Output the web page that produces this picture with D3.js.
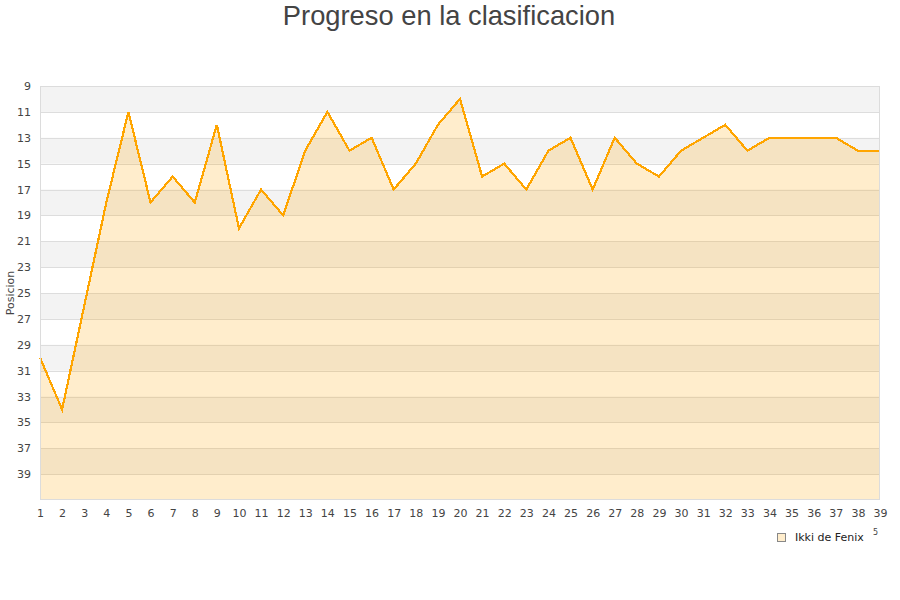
<!DOCTYPE html>
<html><head><meta charset="utf-8">
<script src="https://cdn.jsdelivr.net/npm/d3@7"></script>
<style>body{margin:0;background:#fff;}svg{display:block;}</style>
</head><body>
<svg id="c" width="900" height="600"></svg>
<script>
const jornadas = d3.range(1, 40);
const posiciones = [30,34,26,18,11,18,16,18,12,20,17,19,14,11,14,13,17,15,12,10,16,15,17,14,13,17,13,15,16,14,13,12,14,13,13,13,13,14,14];
const yTicks = [9,11,13,15,17,19,21,23,25,27,29,31,33,35,37,39];
const seriesName = "Ikki de Fenix";
const title = "Progreso en la clasificacion";
const yLabel = "Posicion";

const svg = d3.select("#c");
const L = 40, R = 880, T = 86, B = 500;
const x = d3.scaleLinear().domain([1, 39]).range([L, R]);
const y = d3.scaleLinear().domain([9, 41]).range([T, B]);

// bands
const bandStarts = d3.range(9, 41, 4);
svg.append("g").selectAll("rect").data(bandStarts).join("rect")
  .attr("x", L).attr("width", R - L)
  .attr("y", d => y(d)).attr("height", d => y(d + 2) - y(d))
  .attr("fill", "#f3f3f3");
// grid
svg.append("g").selectAll("line").data(yTicks.slice(1)).join("line")
  .attr("x1", L).attr("x2", R).attr("y1", d => Math.round(y(d)) + 0.5).attr("y2", d => Math.round(y(d)) + 0.5)
  .attr("stroke", "#dddddd").attr("stroke-width", 1);

const data = jornadas.map((j, i) => ({j, p: posiciones[i]}));
svg.append("path").datum(data)
  .attr("d", d3.area().x(d => x(d.j)).y0(B).y1(d => y(d.p)))
  .attr("fill", "orange").attr("fill-opacity", 0.2);
svg.append("path").datum(data)
  .attr("d", d3.line().x(d => x(d.j)).y(d => y(d.p)))
  .attr("fill", "none").attr("stroke", "#ffa500").attr("stroke-width", 2.2)
  .attr("stroke-linejoin", "miter").attr("shape-rendering", "crispEdges");

// border
svg.append("rect").attr("x", L + 0.5).attr("y", T + 0.5).attr("width", R - L - 1).attr("height", B - T - 1)
  .attr("fill", "none").attr("stroke", "#dcdcdc");

// axes
const yAxis = svg.append("g").attr("transform", `translate(${L},0)`)
  .call(d3.axisLeft(y).tickValues(yTicks).tickSize(0).tickPadding(9));
yAxis.select(".domain").remove();
yAxis.selectAll("text").attr("font-family", "DejaVu Sans").attr("font-size", 11).attr("fill", "#444");

const xAxis = svg.append("g").attr("transform", `translate(0,${B})`)
  .call(d3.axisBottom(x).tickValues(jornadas).tickFormat(d3.format("d")).tickSize(0).tickPadding(9));
xAxis.select(".domain").remove();
xAxis.selectAll("text").attr("font-family", "DejaVu Sans").attr("font-size", 11).attr("fill", "#444");

svg.append("text").attr("x", 449).attr("y", 25).attr("text-anchor", "middle")
  .attr("font-family", "Liberation Sans, Arial, sans-serif").attr("font-size", 27.3).attr("fill", "#444").text(title);

svg.append("text").attr("transform", "translate(14,293) rotate(-90)").attr("text-anchor", "middle")
  .attr("font-family", "DejaVu Sans").attr("font-size", 11).attr("fill", "#444").text(yLabel);

// legend
svg.append("rect").attr("x", 777.5).attr("y", 533.5).attr("width", 8).attr("height", 8)
  .attr("fill", "#ffedcc").attr("stroke", "#888");
svg.append("text").attr("x", 795).attr("y", 541).attr("font-family", "DejaVu Sans").attr("font-size", 11)
  .attr("fill", "#222").text(seriesName);
svg.append("text").attr("x", 873).attr("y", 535).attr("font-family", "DejaVu Sans").attr("font-size", 8)
  .attr("fill", "#444").text("5");
</script>
</body></html>
